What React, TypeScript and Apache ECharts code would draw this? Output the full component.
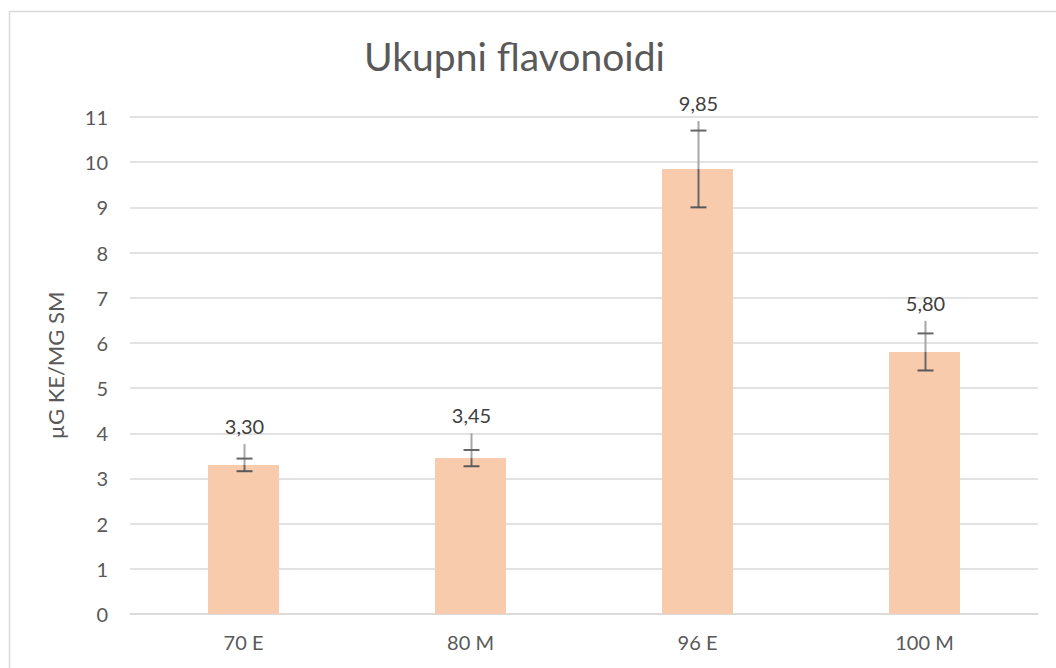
import React, { useEffect, useRef } from "react";
import * as echarts from "echarts";

const categories = ["70 E", "80 M", "96 E", "100 M"];
const values = [3.3, 3.45, 9.85, 5.8];
const errors = [0.14, 0.18, 0.85, 0.41];
const whiskerTop = [3.76, 4.0, 10.91, 6.49];
const yTicks = { min: 0, max: 11, interval: 1 };

const FONT = "Lato, 'Open Sans', sans-serif";

export default function App() {
  const ref = useRef<HTMLDivElement>(null);
  useEffect(() => {
    document.body.style.margin = "0";
    const chart = echarts.init(ref.current!, null, { renderer: "svg" });
    const customData = values.map((v, i) => [i, v, errors[i], whiskerTop[i]]);
    chart.setOption({
      animation: false,
      backgroundColor: "#ffffff",
      textStyle: { fontFamily: FONT },
      title: {
        text: "Ukupni flavonoidi",
        left: 364,
        top: 36,
        padding: 0,
        textStyle: { fontFamily: FONT, fontSize: 39, fontWeight: "normal", color: "#595959" },
      },
      graphic: [
        {
          type: "rect",
          shape: { x: 9.5, y: 11.5, width: 1060, height: 700 },
          style: { fill: "none", stroke: "#d9d9d9", lineWidth: 1.5 },
          silent: true,
          z: -1,
        },
      ],
      grid: { left: 130, right: 18, top: 117, bottom: 54 },
      xAxis: {
        type: "category",
        data: categories,
        axisLine: { lineStyle: { color: "#d9d9d9", width: 1.5 } },
        axisTick: { show: false },
        axisLabel: { color: "#595959", fontSize: 20, fontFamily: FONT, margin: 18 },
      },
      yAxis: {
        type: "value",
        min: yTicks.min,
        max: yTicks.max,
        interval: yTicks.interval,
        name: "µG KE/MG SM",
        nameLocation: "middle",
        nameGap: 64,
        nameTextStyle: { color: "#595959", fontSize: 22, fontFamily: FONT },
        axisLine: { show: false },
        axisTick: { show: false },
        axisLabel: { color: "#595959", fontSize: 20, fontFamily: FONT, margin: 22 },
        splitLine: { lineStyle: { color: "#d9d9d9", width: 1.5 } },
      },
      series: [
        {
          type: "bar",
          data: values,
          barWidth: 71,
          itemStyle: { color: "#F8CBAD" },
        },
        {
          type: "custom",
          data: customData,
          z: 10,
          renderItem: (params: any, api: any) => {
            const idx = api.value(0);
            const v = api.value(1);
            const e = api.value(2);
            const top = api.value(3);
            const pTop = api.coord([idx, top]);
            const pVal = api.coord([idx, v]);
            const pHi = api.coord([idx, v + e]);
            const pLo = api.coord([idx, v - e]);
            const x = Math.round(pVal[0]) + 0.5;
            const cap = 8;
            const label = v.toFixed(2).replace(".", ",");
            return {
              type: "group",
              children: [
                {
                  type: "line",
                  shape: { x1: x, y1: pTop[1], x2: x, y2: pVal[1] },
                  style: { stroke: "#a6a6a6", lineWidth: 2 },
                },
                {
                  type: "line",
                  shape: { x1: x, y1: pVal[1], x2: x, y2: pLo[1] },
                  style: { stroke: "#666666", lineWidth: 2 },
                },
                {
                  type: "line",
                  shape: { x1: x - cap, y1: pHi[1], x2: x + cap, y2: pHi[1] },
                  style: { stroke: "#666666", lineWidth: 2 },
                },
                {
                  type: "line",
                  shape: { x1: x - cap, y1: pLo[1], x2: x + cap, y2: pLo[1] },
                  style: { stroke: "#595959", lineWidth: 2 },
                },
                {
                  type: "text",
                  x: x,
                  y: pTop[1] - 18,
                  style: {
                    text: label,
                    fill: "#404040",
                    font: `20px ${FONT}`,
                    align: "center",
                    verticalAlign: "middle",
                  },
                },
              ],
            };
          },
        },
      ],
    });
    return () => chart.dispose();
  }, []);
  return <div ref={ref} style={{ width: 1056, height: 668 }} />;
}
